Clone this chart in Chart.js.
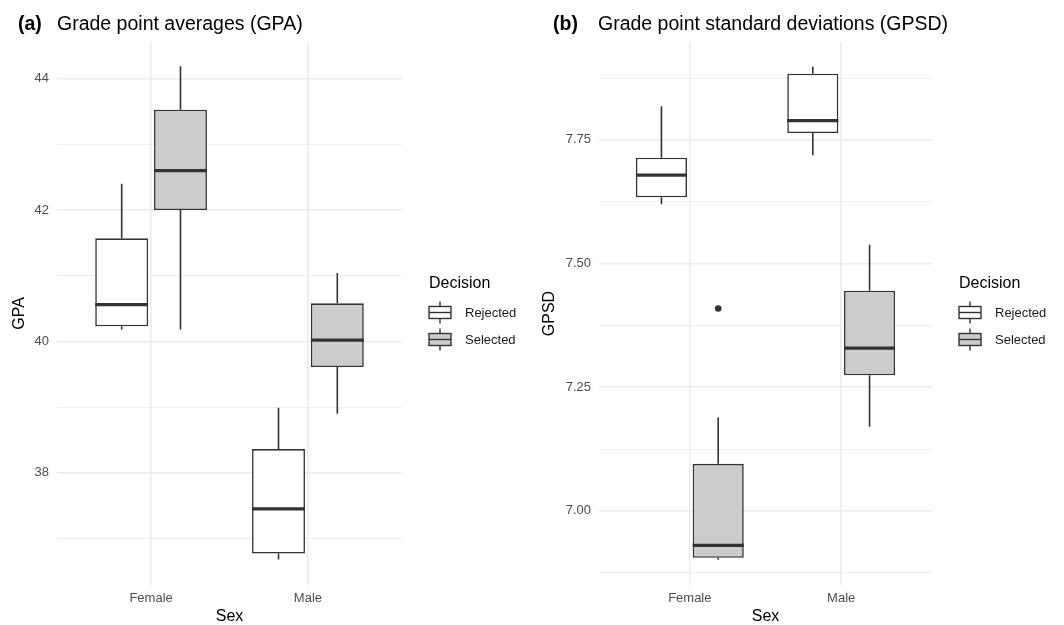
<!DOCTYPE html>
<html>
<head>
<meta charset="utf-8">
<script src="https://cdn.jsdelivr.net/npm/chart.js@4.4.0/dist/chart.umd.min.js"></script>
<style>
  body { margin: 0; background: #fff; font-family: 'Liberation Sans', Arial, sans-serif; }
  #wrap { position: relative; width: 1064px; height: 625px; overflow: hidden; }
  .panel { position: absolute; top: 0; }
  .title { position: absolute; top: 14px; font-size: 19.5px; line-height: 1; color: #000; white-space: nowrap; }
  .tag { font-weight: bold; }
</style>
</head>
<body>
<div id="wrap">
  <div class="panel" style="left:0"><canvas id="gpaChart" width="530" height="625"></canvas></div>
  <div class="panel" style="left:530px"><canvas id="gpsdChart" width="534" height="625"></canvas></div>
  <span class="title tag" style="left:18px">(a)</span>
  <span class="title" style="left:57px">Grade point averages (GPA)</span>
  <span class="title tag" style="left:553px">(b)</span>
  <span class="title" style="left:598px">Grade point standard deviations (GPSD)</span>
</div>
<script>
const FONT = "'Liberation Sans', Arial, sans-serif";

const sexes = ['Female', 'Male'];
const decisions = ['Rejected', 'Selected'];
const boxFills = ['#FFFFFF', '#CCCCCC'];

// per sex: [lower whisker, Q1, median, Q3, upper whisker]
const gpaRejected = [[40.18, 40.23, 40.56, 41.57, 42.40], [36.68, 36.77, 37.45, 38.36, 38.99]];
const gpaSelected = [[40.18, 42.00, 42.60, 43.53, 44.19], [38.90, 39.61, 40.02, 40.58, 41.04]];
const gpsdRejected = [[7.620, 7.634, 7.679, 7.714, 7.818], [7.719, 7.764, 7.789, 7.884, 7.898]];
const gpsdSelected = [[6.901, 6.905, 6.930, 7.095, 7.189], [7.170, 7.274, 7.329, 7.445, 7.538]];

// points beyond the whiskers, per sex
const gpaRejectedOut = [[], []];
const gpaSelectedOut = [[], []];
const gpsdRejectedOut = [[], []];
const gpsdSelectedOut = [[7.409], []];

const gpaBreaks = [38, 40, 42, 44];
const gpaMinor = [37, 39, 41, 43];
const gpsdBreaks = [7.00, 7.25, 7.50, 7.75];
const gpsdMinor = [6.875, 7.125, 7.375, 7.625, 7.875];

// whiskers, medians and outliers on top of the floating bars
const boxWhiskers = {
  id: 'boxWhiskers',
  afterDatasetsDraw(chart) {
    const ctx = chart.ctx;
    const y = chart.scales.y;
    chart.data.datasets.forEach((ds, k) => {
      const meta = chart.getDatasetMeta(k);
      meta.data.forEach((bar, i) => {
        const s = ds.stats[i];
        const half = bar.width / 2;
        ctx.save();
        ctx.strokeStyle = '#333333';
        ctx.lineWidth = 1.6;
        ctx.beginPath();
        ctx.moveTo(bar.x, y.getPixelForValue(s[4]));
        ctx.lineTo(bar.x, y.getPixelForValue(s[3]));
        ctx.moveTo(bar.x, y.getPixelForValue(s[1]));
        ctx.lineTo(bar.x, y.getPixelForValue(s[0]));
        ctx.stroke();
        const my = y.getPixelForValue(s[2]);
        ctx.lineWidth = 3.2;
        ctx.beginPath();
        ctx.moveTo(bar.x - half, my);
        ctx.lineTo(bar.x + half, my);
        ctx.stroke();
        ctx.fillStyle = '#333333';
        ds.outliers[i].forEach(v => {
          ctx.beginPath();
          ctx.arc(bar.x, y.getPixelForValue(v), 3.3, 0, Math.PI * 2);
          ctx.fill();
        });
        ctx.restore();
      });
    });
  }
};

// legend with little boxplot glyphs to the right of the plot
const boxLegend = {
  id: 'boxLegend',
  afterDraw(chart) {
    const ctx = chart.ctx;
    const area = chart.chartArea;
    const x0 = area.right + 26;
    const cy = (area.top + area.bottom) / 2;
    ctx.save();
    ctx.fillStyle = '#000';
    ctx.font = '16px ' + FONT;
    ctx.textBaseline = 'middle';
    ctx.textAlign = 'left';
    ctx.fillText('Decision', x0 + 1, cy - 30);
    chart.data.datasets.forEach((ds, k) => {
      const ky = cy - 1 + k * 27;
      const kx = x0 + 12;
      ctx.strokeStyle = '#333333';
      ctx.lineWidth = 1.4;
      ctx.beginPath();
      ctx.moveTo(kx, ky - 11);
      ctx.lineTo(kx, ky + 11);
      ctx.stroke();
      ctx.fillStyle = ds.backgroundColor;
      ctx.fillRect(kx - 11, ky - 6, 22, 12);
      ctx.strokeRect(kx - 11, ky - 6, 22, 12);
      ctx.beginPath();
      ctx.moveTo(kx - 11, ky);
      ctx.lineTo(kx + 11, ky);
      ctx.stroke();
      ctx.fillStyle = '#1a1a1a';
      ctx.font = '13px ' + FONT;
      ctx.fillText(ds.label, x0 + 37, ky + 1);
    });
    ctx.restore();
  }
};

function boxChart(id, cfg) {
  const ticks = cfg.minor.concat(cfg.breaks).sort((a, b) => a - b);
  const isMajor = v => cfg.breaks.some(b => Math.abs(b - v) < 1e-9);
  return new Chart(document.getElementById(id), {
    type: 'bar',
    data: {
      datasets: decisions.map((d, k) => ({
        label: d,
        data: cfg.stats[k].map((s, i) => ({ x: i + 1, y: [s[1], s[3]] })),
        stats: cfg.stats[k],
        outliers: cfg.outliers[k],
        backgroundColor: boxFills[k],
        borderColor: '#333333',
        borderWidth: 1.6,
        borderSkipped: false,
        categoryPercentage: 0.75,
        barPercentage: 0.9
      }))
    },
    options: {
      responsive: false,
      animation: false,
      devicePixelRatio: 1,
      layout: { padding: { top: 42, right: cfg.right, bottom: 0, left: 0 } },
      plugins: { legend: { display: false }, tooltip: { enabled: false } },
      scales: {
        x: {
          type: 'linear',
          min: 0.4,
          max: 2.6,
          offset: false,
          afterBuildTicks: ax => { ax.ticks = sexes.map((s, i) => ({ value: i + 1 })); },
          ticks: {
            callback: v => sexes[v - 1],
            color: '#4D4D4D',
            font: { size: 13, family: FONT },
            padding: 6,
            maxRotation: 0,
            autoSkip: false
          },
          grid: { color: '#EBEBEB', lineWidth: 1.5, drawTicks: false, offset: false },
          border: { display: false },
          title: { display: true, text: 'Sex', color: '#000', font: { size: 16, family: FONT, lineHeight: 1 }, padding: 0 },
          afterFit: ax => { ax.height = 40; }
        },
        y: {
          min: cfg.min,
          max: cfg.max,
          afterBuildTicks: ax => { ax.ticks = ticks.map(v => ({ value: v })); },
          ticks: {
            callback: v => isMajor(v) ? cfg.fmt(v) : '',
            color: '#4D4D4D',
            font: { size: 13, family: FONT },
            padding: 8,
            autoSkip: false
          },
          grid: {
            color: '#EBEBEB',
            lineWidth: c => isMajor(c.tick.value) ? 1.5 : 0.8,
            drawTicks: false
          },
          border: { display: false },
          title: { display: true, text: cfg.label, color: '#000', font: { size: 16, family: FONT, lineHeight: 1 }, padding: { top: 12, bottom: 0 } },
          afterFit: ax => { ax.width = cfg.left; }
        }
      }
    },
    plugins: [boxWhiskers, boxLegend]
  });
}

boxChart('gpaChart', {
  stats: [gpaRejected, gpaSelected],
  outliers: [gpaRejectedOut, gpaSelectedOut],
  breaks: gpaBreaks,
  minor: gpaMinor,
  min: 36.29,
  max: 44.56,
  fmt: v => String(v),
  label: 'GPA',
  left: 57,
  right: 128
});

boxChart('gpsdChart', {
  stats: [gpsdRejected, gpsdSelected],
  outliers: [gpsdRejectedOut, gpsdSelectedOut],
  breaks: gpsdBreaks,
  minor: gpsdMinor,
  min: 6.85,
  max: 7.948,
  fmt: v => v.toFixed(2),
  label: 'GPSD',
  left: 69,
  right: 132
});
</script>
</body>
</html>
